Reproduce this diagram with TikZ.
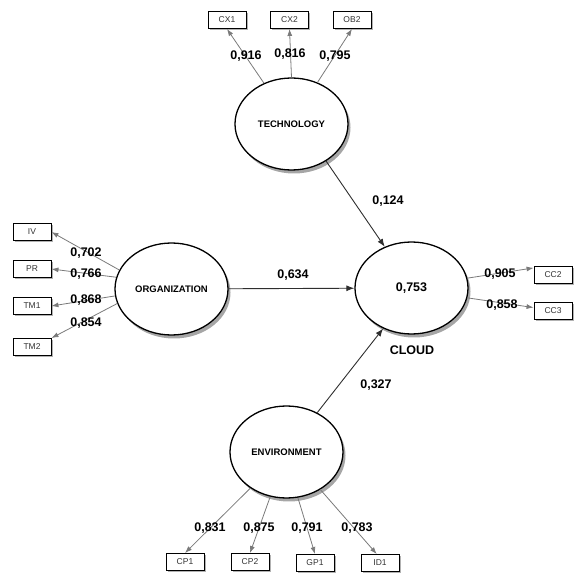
\documentclass[tikz,border=0pt]{standalone}
\usepackage{fontspec}
\setmainfont{Liberation Sans}
\usetikzlibrary{arrows.meta,shapes.geometric,shadows}
\definecolor{loadgray}{HTML}{7A7A7A}
\definecolor{pathgray}{HTML}{2E2E2E}

\begin{document}
\begin{tikzpicture}[x=1pt, y=-1pt, thick,
  construct/.style={ellipse, draw=black, line width=1.3pt, fill=white,
    minimum width=113pt, minimum height=92pt, inner sep=0pt,
    font=\bfseries\fontsize{9.5}{11}\selectfont,
    drop shadow={shadow xshift=2.5pt, shadow yshift=-3.5pt, opacity=1, fill=black!35}},
  indicator/.style={rectangle, draw=black, line width=0.9pt, fill=white,
    minimum width=38pt, minimum height=17pt, inner sep=1pt,
    font=\fontsize{8.5}{10}\selectfont, text=black!80,
    drop shadow={shadow xshift=1.5pt, shadow yshift=-1.5pt, opacity=1, fill=black!30}},
  coef/.style={font=\bfseries\fontsize{12.5}{14}\selectfont},
  loading/.style={draw=loadgray, line width=0.8pt,
    -{Latex[length=7pt, width=5pt]}},
  structural/.style={draw=pathgray, line width=0.9pt,
    -{Latex[length=8pt, width=6pt]}}]

  \useasboundingbox (0, 0) rectangle (582, 577);

  % -- Constructs --
  \node[construct] (tech)  at (291.5, 124) {TECHNOLOGY};
  \node[construct] (org)   at (171.5, 289) {ORGANIZATION};
  \node[construct, font=\bfseries\fontsize{12.5}{14}\selectfont] (cloud) at (411.5, 288) {0,753};
  \node[construct] (env)   at (286.5, 452) {ENVIRONMENT};
  \node[coef] (cloudname) at (412, 350) {CLOUD};

  % -- Indicators --
  \node[indicator] (cx1) at (227, 20) {CX1};
  \node[indicator] (cx2) at (289.5, 20) {CX2};
  \node[indicator] (ob2) at (352, 20) {OB2};

  \node[indicator] (iv)  at (32, 232) {IV};
  \node[indicator] (pr)  at (32, 269) {PR};
  \node[indicator] (tm1) at (32, 306) {TM1};
  \node[indicator] (tm2) at (32, 347) {TM2};

  \node[indicator] (cc2) at (553, 275) {CC2};
  \node[indicator] (cc3) at (553, 311) {CC3};

  \node[indicator] (cp1) at (185, 562) {CP1};
  \node[indicator] (cp2) at (250, 562) {CP2};
  \node[indicator] (gp1) at (315, 563) {GP1};
  \node[indicator] (id1) at (380, 563) {ID1};

  % -- Loadings --
  \draw[loading] (tech.124) -- (cx1.south);
  \draw[loading] (tech.90)  -- (cx2.south);
  \draw[loading] (tech.58)  -- (ob2.south);

  \draw[loading] (org.160) -- (iv.east);
  \draw[loading] (org.168) -- (pr.east);
  \draw[loading] (org.187) -- (tm1.east);
  \draw[loading] (org.195) -- (tm2.north east);

  \draw[loading] (cloud.10)  -- (cc2.160);
  \draw[loading] (cloud.350) -- (cc3.170);

  \draw[loading] (env.225) -- (cp1.north);
  \draw[loading] (env.250) -- (cp2.north);
  \draw[loading] (env.284) -- (gp1.north);
  \draw[loading] (env.312) -- (id1.110);

  % -- Structural paths --
  \draw[structural] (tech.313) -- (cloud.123);
  \draw[structural] (org) -- (cloud);
  \draw[structural] (env.52) -- (cloud.235);

  % -- Coefficients --
  \node[coef] (l-cx1) at (246, 56) {0,916};
  \node[coef] (l-cx2) at (290, 54) {0,816};
  \node[coef] (l-ob2) at (335, 56) {0,795};

  \node[coef] (l-iv)  at (86, 253) {0,702};
  \node[coef] (l-pr)  at (86, 274) {0,766};
  \node[coef] (l-tm1) at (86, 300) {0,868};
  \node[coef] (l-tm2) at (86, 323) {0,854};

  \node[coef] (l-cc2) at (500, 274) {0,905};
  \node[coef] (l-cc3) at (502, 305) {0,858};

  \node[coef] (l-cp1) at (210, 528) {0,831};
  \node[coef] (l-cp2) at (259, 528) {0,875};
  \node[coef] (l-gp1) at (307, 528) {0,791};
  \node[coef] (l-id1) at (357, 528) {0,783};

  \node[coef] (l-tech) at (388, 201) {0,124};
  \node[coef] (l-org)  at (293, 275) {0,634};
  \node[coef] (l-env)  at (376, 385) {0,327};

\end{tikzpicture}
\end{document}
